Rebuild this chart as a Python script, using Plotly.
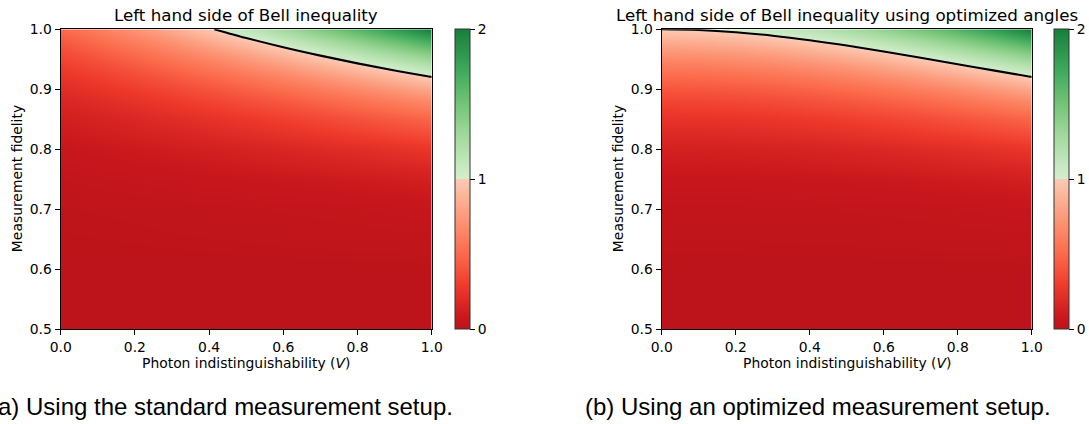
import plotly.graph_objects as go

# ---------------- data ----------------
V_GRID = [0.0, 0.1, 0.2, 0.3, 0.4, 0.5, 0.6, 0.7, 0.8, 0.9, 1.0]          # photon indistinguishability
F_GRID = [0.50, 0.60, 0.70, 0.75, 0.80, 0.85, 0.88, 0.90, 0.92, 0.94, 0.96, 0.98, 1.00]  # measurement fidelity

# left hand side of the Bell inequality, standard measurement setup (rows follow F_GRID)
Z_STANDARD = [
    [0.000, 0.000, 0.000, 0.000, 0.000, 0.000, 0.000, 0.000, 0.000, 0.000, 0.000],
    [0.001, 0.001, 0.001, 0.001, 0.002, 0.002, 0.002, 0.002, 0.003, 0.003, 0.003],
    [0.013, 0.015, 0.018, 0.022, 0.025, 0.029, 0.033, 0.037, 0.041, 0.046, 0.051],
    [0.031, 0.038, 0.045, 0.053, 0.061, 0.070, 0.080, 0.090, 0.101, 0.113, 0.125],
    [0.065, 0.078, 0.093, 0.110, 0.127, 0.146, 0.166, 0.187, 0.210, 0.234, 0.259],
    [0.120, 0.145, 0.173, 0.203, 0.235, 0.270, 0.307, 0.347, 0.389, 0.433, 0.480],
    [0.167, 0.202, 0.240, 0.282, 0.327, 0.375, 0.427, 0.482, 0.540, 0.602, 0.667],
    [0.205, 0.248, 0.295, 0.346, 0.401, 0.461, 0.524, 0.592, 0.664, 0.739, 0.819],
    [0.249, 0.301, 0.358, 0.421, 0.488, 0.560, 0.637, 0.719, 0.807, 0.899, 0.996],
    [0.300, 0.363, 0.432, 0.507, 0.588, 0.675, 0.768, 0.867, 0.972, 1.082, 1.199],
    [0.358, 0.433, 0.516, 0.605, 0.702, 0.806, 0.917, 1.035, 1.161, 1.293, 1.433],
    [0.425, 0.514, 0.611, 0.718, 0.832, 0.955, 1.087, 1.227, 1.376, 1.533, 1.699],
    [0.500, 0.605, 0.720, 0.845, 0.980, 1.125, 1.280, 1.445, 1.620, 1.805, 2.000],
]

# left hand side of the Bell inequality, optimized angles (rows follow F_GRID)
Z_OPTIMIZED = [
    [0.000, 0.000, 0.000, 0.000, 0.000, 0.000, 0.000, 0.000, 0.000, 0.000, 0.000],
    [0.002, 0.002, 0.002, 0.002, 0.002, 0.002, 0.002, 0.002, 0.003, 0.003, 0.003],
    [0.026, 0.026, 0.027, 0.028, 0.030, 0.032, 0.035, 0.038, 0.042, 0.046, 0.051],
    [0.063, 0.063, 0.065, 0.068, 0.073, 0.078, 0.085, 0.093, 0.103, 0.113, 0.125],
    [0.130, 0.131, 0.135, 0.141, 0.150, 0.162, 0.176, 0.193, 0.213, 0.235, 0.259],
    [0.240, 0.243, 0.250, 0.262, 0.279, 0.300, 0.327, 0.358, 0.394, 0.435, 0.480],
    [0.334, 0.337, 0.347, 0.364, 0.387, 0.417, 0.454, 0.497, 0.547, 0.604, 0.667],
    [0.410, 0.414, 0.426, 0.446, 0.475, 0.512, 0.557, 0.610, 0.672, 0.741, 0.819],
    [0.498, 0.503, 0.518, 0.543, 0.578, 0.622, 0.677, 0.742, 0.817, 0.901, 0.996],
    [0.600, 0.606, 0.624, 0.654, 0.696, 0.750, 0.816, 0.894, 0.984, 1.085, 1.199],
    [0.716, 0.724, 0.745, 0.781, 0.831, 0.896, 0.974, 1.067, 1.175, 1.297, 1.433],
    [0.849, 0.858, 0.883, 0.926, 0.985, 1.062, 1.155, 1.265, 1.393, 1.537, 1.699],
    [1.000, 1.010, 1.040, 1.090, 1.160, 1.250, 1.360, 1.490, 1.640, 1.810, 2.000],
]

# black boundary curves (value = 1)
BOUND_STD_V = [0.414, 0.45, 0.5, 0.6, 0.7, 0.8, 0.9, 1.0]
BOUND_STD_F = [1.000, 0.9938, 0.9855, 0.9701, 0.9561, 0.9432, 0.9314, 0.9204]
BOUND_OPT_V = [0.0, 0.1, 0.2, 0.3, 0.4, 0.5, 0.6, 0.7, 0.8, 0.9, 1.0]
BOUND_OPT_F = [1.000, 0.99876, 0.99512, 0.98935, 0.98179, 0.97287, 0.96300, 0.95256, 0.94183, 0.93107, 0.92045]

X_TICKS = [0.0, 0.2, 0.4, 0.6, 0.8, 1.0]
X_TICK_LABELS = ["0.0", "0.2", "0.4", "0.6", "0.8", "1.0"]
Y_TICKS = [0.5, 0.6, 0.7, 0.8, 0.9, 1.0]
Y_TICK_LABELS = ["0.5", "0.6", "0.7", "0.8", "0.9", "1.0"]
CB_TICKS = [0, 1, 2]
CB_TICK_LABELS = ["0", "1", "2"]

TITLE_LEFT = "Left hand side of Bell inequality"
TITLE_RIGHT = "Left hand side of Bell inequality using optimized angles"
XLABEL = "Photon indistinguishability (<i>V</i>)"
YLABEL = "Measurement fidelity"
CAPTION_LEFT = "(a) Using the standard measurement setup."
CAPTION_RIGHT = "(b) Using an optimized measurement setup."

# ---------------- styling ----------------
W, H = 1089, 424
FONT = "DejaVu Sans"
TICK_SIZE = 13.9
TITLE_SIZE = 16.7
CAPTION_SIZE = 24.0

COLORSCALE = [
    [0.0, "rgb(188,20,26)"],
    [0.04167, "rgb(203,24,29)"],
    [0.14583, "rgb(239,59,44)"],
    [0.25, "rgb(251,106,74)"],
    [0.35417, "rgb(252,146,114)"],
    [0.45833, "rgb(252,187,161)"],
    [0.5, "rgb(253,202,181)"],
    [0.5, "rgb(211,238,205)"],
    [0.54167, "rgb(199,233,192)"],
    [0.64583, "rgb(161,217,155)"],
    [0.75, "rgb(116,196,118)"],
    [0.85417, "rgb(65,171,93)"],
    [0.95833, "rgb(35,139,69)"],
    [1.0, "rgb(21,127,59)"],
]


def px_x(p):
    return p / W


def px_y(p):
    return 1 - p / H


PLOT_TOP, PLOT_BOTTOM = 29.3, 329.0
LEFT_X0, LEFT_X1 = 60.7, 431.7
RIGHT_X0, RIGHT_X1 = 661.7, 1031.7
CB_LEFT_X, CB_RIGHT_X = 455.0, 1054.0
CB_THICK = 15

ydom = [px_y(PLOT_BOTTOM), px_y(PLOT_TOP)]


def colorbar(xpx):
    return dict(
        x=px_x(xpx), xanchor="left", xpad=0,
        y=px_y(PLOT_BOTTOM), yanchor="bottom", ypad=0,
        len=(PLOT_BOTTOM - PLOT_TOP) / H, lenmode="fraction",
        thickness=CB_THICK, thicknessmode="pixels",
        outlinewidth=1, outlinecolor="#333333",
        tickmode="array", tickvals=CB_TICKS, ticktext=CB_TICK_LABELS,
        ticks="outside", ticklen=5, tickwidth=1.1, tickcolor="black",
        tickfont=dict(family=FONT, size=TICK_SIZE, color="black"),
    )


fig = go.Figure()
fig.add_trace(go.Heatmap(
    x=V_GRID, y=F_GRID, z=Z_STANDARD, zmin=0, zmax=2, zsmooth="best",
    colorscale=COLORSCALE, colorbar=colorbar(CB_LEFT_X), xaxis="x", yaxis="y",
    hoverinfo="skip",
))
fig.add_trace(go.Scatter(
    x=BOUND_STD_V, y=BOUND_STD_F, mode="lines", line=dict(color="black", width=2.1, shape="spline"),
    xaxis="x", yaxis="y", showlegend=False, hoverinfo="skip",
))
fig.add_trace(go.Heatmap(
    x=V_GRID, y=F_GRID, z=Z_OPTIMIZED, zmin=0, zmax=2, zsmooth="best",
    colorscale=COLORSCALE, colorbar=colorbar(CB_RIGHT_X), xaxis="x2", yaxis="y2",
    hoverinfo="skip",
))
fig.add_trace(go.Scatter(
    x=BOUND_OPT_V, y=BOUND_OPT_F, mode="lines", line=dict(color="black", width=2.1, shape="spline"),
    xaxis="x2", yaxis="y2", showlegend=False, hoverinfo="skip",
))

axis_common = dict(
    showline=True, linecolor="black", linewidth=1.1, mirror=True,
    ticks="outside", ticklen=5, tickwidth=1.1, tickcolor="black",
    showgrid=False, zeroline=False, automargin=False,
    tickfont=dict(family=FONT, size=TICK_SIZE, color="black"),
    tickmode="array",
)

fig.update_layout(
    width=W, height=H,
    margin=dict(l=0, r=0, t=0, b=0, autoexpand=False),
    paper_bgcolor="white", plot_bgcolor="white",
    showlegend=False,
    xaxis=dict(axis_common, domain=[px_x(LEFT_X0), px_x(LEFT_X1)], range=[0, 1],
               tickvals=X_TICKS, ticktext=X_TICK_LABELS, anchor="y"),
    yaxis=dict(axis_common, domain=ydom, range=[0.5, 1],
               tickvals=Y_TICKS, ticktext=Y_TICK_LABELS, anchor="x"),
    xaxis2=dict(axis_common, domain=[px_x(RIGHT_X0), px_x(RIGHT_X1)], range=[0, 1],
                tickvals=X_TICKS, ticktext=X_TICK_LABELS, anchor="y2"),
    yaxis2=dict(axis_common, domain=ydom, range=[0.5, 1],
                tickvals=Y_TICKS, ticktext=Y_TICK_LABELS, anchor="x2"),
)

ann = []
for xd, title in (("x domain", TITLE_LEFT), ("x2 domain", TITLE_RIGHT)):
    ann.append(dict(text=title, xref=xd, x=0.5, yref="paper", y=px_y(15.0),
                    xanchor="center", yanchor="middle", showarrow=False,
                    font=dict(family=FONT, size=TITLE_SIZE, color="black")))
    ann.append(dict(text=XLABEL, xref=xd, x=0.5, yref="paper", y=px_y(363),
                    xanchor="center", yanchor="middle", showarrow=False,
                    font=dict(family=FONT, size=TICK_SIZE, color="black")))
for x0, yd in ((LEFT_X0, "y domain"), (RIGHT_X0, "y2 domain")):
    ann.append(dict(text=YLABEL, xref="paper", x=px_x(x0 - 43.7), yref=yd, y=0.5,
                    xanchor="center", yanchor="middle", textangle=-90, showarrow=False,
                    font=dict(family=FONT, size=TICK_SIZE, color="black")))
for xpx, cap in ((-12.0, CAPTION_LEFT), (583.0, CAPTION_RIGHT)):
    ann.append(dict(text=cap, xref="paper", x=px_x(xpx), yref="paper", y=px_y(406.5),
                    xanchor="left", yanchor="middle", showarrow=False,
                    font=dict(family="Liberation Sans", size=CAPTION_SIZE, color="black")))
fig.update_layout(annotations=ann)

# remove the browser's default page margin so the figure sits at the window's corner
fig.write_html(
    "out.html",
    config={"displayModeBar": False},
    post_script="document.body.style.margin='0px'; document.body.style.overflow='hidden';",
)
